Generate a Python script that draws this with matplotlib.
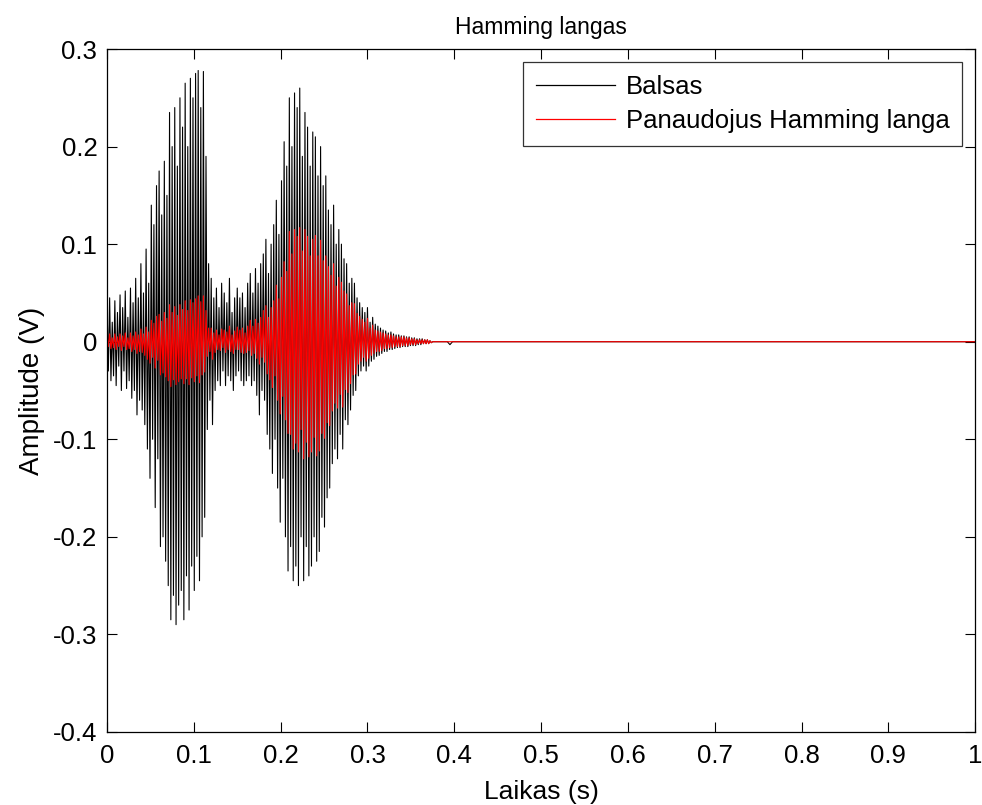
import numpy as np
import matplotlib
matplotlib.use("Agg")
import matplotlib.pyplot as plt

plt.rcParams["font.family"] = ["Liberation Sans", "DejaVu Sans"]
plt.rcParams["axes.unicode_minus"] = False

# Half-cycle spacing of the voiced segment (s)
half_period = 0.0015

# Alternating peak values of the recorded signal, one per half-cycle
balsas_peaks = [
    0.040, -0.030, 0.045, -0.040, 0.020, -0.035, 0.042, -0.045, 0.030, -0.025,
    0.048, -0.050, 0.035, -0.030, 0.052, -0.048, 0.025, -0.040, 0.055, -0.058,
    0.040, -0.050, 0.065, -0.075, 0.045, -0.060, 0.080, -0.070, 0.050, -0.085,
    0.095, -0.110, 0.060, -0.140, 0.140, -0.100, 0.120, -0.170, 0.160, -0.120,
    0.175, -0.210, 0.130, -0.200, 0.185, -0.225, 0.150, -0.250, 0.235, -0.285,
    0.200, -0.260, 0.240, -0.290, 0.180, -0.270, 0.250, -0.255, 0.220, -0.285,
    0.265, -0.240, 0.200, -0.275, 0.270, -0.230, 0.250, -0.255, 0.275, -0.220,
    0.278, -0.245, 0.240, -0.200, 0.277, -0.180, 0.190, -0.090, 0.080, -0.060,
    0.065, -0.085, 0.045, -0.050, 0.055, -0.040, 0.035, -0.045, 0.060, -0.030,
    0.050, -0.045, 0.040, -0.035, 0.065, -0.040, 0.030, -0.050, 0.045, -0.035,
    0.055, -0.030, 0.045, -0.040, 0.050, -0.045, 0.035, -0.040, 0.060, -0.035,
    0.070, -0.045, 0.050, -0.040, 0.075, -0.055, 0.060, -0.075, 0.080, -0.050,
    0.090, -0.060, 0.105, -0.095, 0.070, -0.110, 0.100, -0.135, 0.120, -0.100,
    0.145, -0.150, 0.110, -0.185, 0.165, -0.140, 0.205, -0.200, 0.180, -0.235,
    0.250, -0.210, 0.200, -0.245, 0.255, -0.230, 0.240, -0.250, 0.260, -0.200,
    0.190, -0.245, 0.235, -0.210, 0.220, -0.240, 0.180, -0.230, 0.215, -0.200,
    0.210, -0.225, 0.170, -0.215, 0.200, -0.180, 0.160, -0.190, 0.170, -0.160,
    0.135, -0.150, 0.120, -0.125, 0.140, -0.110, 0.100, -0.120, 0.115, -0.095,
    0.100, -0.110, 0.085, -0.080, 0.080, -0.085, 0.060, -0.070, 0.065, -0.055,
    0.060, -0.050, 0.045, -0.035, 0.040, -0.030, 0.035, -0.025, 0.030, -0.030,
    0.035, -0.025, 0.020, -0.020, 0.025, -0.018, 0.018, -0.015, 0.016, -0.014,
    0.014, -0.012, 0.012, -0.010, 0.011, -0.010, 0.009, -0.008, 0.010, -0.008,
    0.008, -0.007, 0.007, -0.006, 0.007, -0.006, 0.006, -0.005, 0.006, -0.005,
    0.005, -0.005, 0.005, -0.004, 0.004, -0.004, 0.004, -0.004, 0.003, -0.003,
    0.003, -0.003, 0.003, -0.002, 0.002, -0.002, 0.002, -0.002, 0.001, -0.001,
]

# Same half-cycles after the Hamming window is applied
lango_peaks = [
    0.007, -0.005, 0.008, -0.007, 0.004, -0.006, 0.008, -0.008, 0.005, -0.005,
    0.008, -0.009, 0.006, -0.005, 0.009, -0.008, 0.004, -0.007, 0.009, -0.010,
    0.006, -0.008, 0.010, -0.012, 0.007, -0.010, 0.013, -0.011, 0.008, -0.014,
    0.015, -0.018, 0.010, -0.022, 0.022, -0.016, 0.019, -0.027, 0.026, -0.019,
    0.028, -0.034, 0.021, -0.032, 0.030, -0.036, 0.024, -0.040, 0.038, -0.046,
    0.030, -0.039, 0.036, -0.044, 0.027, -0.041, 0.038, -0.038, 0.033, -0.043,
    0.042, -0.038, 0.032, -0.044, 0.043, -0.037, 0.040, -0.041, 0.044, -0.035,
    0.047, -0.042, 0.041, -0.034, 0.047, -0.031, 0.032, -0.015, 0.014, -0.010,
    0.014, -0.018, 0.009, -0.011, 0.012, -0.008, 0.007, -0.009, 0.013, -0.006,
    0.012, -0.011, 0.010, -0.008, 0.016, -0.010, 0.007, -0.012, 0.011, -0.008,
    0.015, -0.008, 0.012, -0.011, 0.014, -0.012, 0.009, -0.011, 0.016, -0.009,
    0.022, -0.014, 0.016, -0.012, 0.023, -0.017, 0.019, -0.023, 0.025, -0.016,
    0.032, -0.021, 0.037, -0.033, 0.025, -0.039, 0.035, -0.047, 0.042, -0.035,
    0.058, -0.060, 0.044, -0.074, 0.066, -0.056, 0.082, -0.080, 0.072, -0.094,
    0.113, -0.095, 0.090, -0.110, 0.115, -0.104, 0.108, -0.113, 0.117, -0.090,
    0.093, -0.120, 0.115, -0.103, 0.108, -0.118, 0.088, -0.113, 0.105, -0.098,
    0.109, -0.117, 0.088, -0.112, 0.104, -0.094, 0.083, -0.099, 0.088, -0.083,
    0.077, -0.086, 0.068, -0.071, 0.080, -0.063, 0.057, -0.068, 0.066, -0.054,
    0.061, -0.067, 0.052, -0.049, 0.049, -0.052, 0.037, -0.043, 0.040, -0.034,
    0.039, -0.033, 0.029, -0.023, 0.026, -0.020, 0.023, -0.016, 0.020, -0.020,
    0.024, -0.017, 0.014, -0.014, 0.017, -0.012, 0.012, -0.010, 0.011, -0.010,
    0.010, -0.009, 0.009, -0.007, 0.008, -0.007, 0.007, -0.006, 0.007, -0.006,
    0.006, -0.005, 0.005, -0.005, 0.005, -0.005, 0.005, -0.004, 0.005, -0.004,
    0.004, -0.004, 0.004, -0.003, 0.003, -0.003, 0.003, -0.003, 0.002, -0.002,
    0.002, -0.002, 0.002, -0.002, 0.002, -0.002, 0.002, -0.002, 0.001, -0.001,
]

# Silent remainder of the recording
tail_times = [0.375, 0.392, 0.395, 0.398, 1.0]
tail_balsas = [0.0, 0.0, -0.003, 0.0, 0.0]
tail_lango = [0.0, 0.0, 0.0, 0.0, 0.0]

x_ticks = [0, 0.1, 0.2, 0.3, 0.4, 0.5, 0.6, 0.7, 0.8, 0.9, 1]
x_tick_labels = ["0", "0.1", "0.2", "0.3", "0.4", "0.5", "0.6", "0.7", "0.8", "0.9", "1"]
y_ticks = [-0.4, -0.3, -0.2, -0.1, 0, 0.1, 0.2, 0.3]
y_tick_labels = ["-0.4", "-0.3", "-0.2", "-0.1", "0", "0.1", "0.2", "0.3"]

peak_times = np.arange(len(balsas_peaks)) * half_period
t = np.concatenate([peak_times, tail_times])
balsas = np.concatenate([balsas_peaks, tail_balsas])
lango = np.concatenate([lango_peaks, tail_lango])

fig = plt.figure(figsize=(9.82, 8.05), dpi=100)
ax = fig.add_axes([0.109, 0.0907, 0.884, 0.8484])

ax.plot(t, balsas, color="black", lw=0.8, label="Balsas")
ax.plot(t, lango, color="red", lw=0.8, label="Panaudojus Hamming langa")

ax.set_xlim(0, 1)
ax.set_ylim(-0.4, 0.3)
ax.set_xticks(x_ticks)
ax.set_xticklabels(x_tick_labels)
ax.set_yticks(y_ticks)
ax.set_yticklabels(y_tick_labels)

ax.tick_params(direction="in", length=7, width=0.8, top=True, right=True,
               labelsize=18.5, pad=7, colors="black")
ax.tick_params(axis="x", pad=9)
for sp in ax.spines.values():
    sp.set_linewidth(0.9)

ax.set_xlabel("Laikas (s)", fontsize=19, labelpad=8)
ax.set_ylabel("Amplitude (V)", fontsize=20, labelpad=6)
ax.set_title("Hamming langas", fontsize=16.5, pad=11)

leg = ax.legend(loc="upper right", fontsize=18.5, frameon=True, fancybox=False,
                handlelength=3.1, borderaxespad=0.5, borderpad=0.5,
                labelspacing=0.4, handletextpad=0.4)
leg.get_frame().set_edgecolor("black")
leg.get_frame().set_linewidth(0.9)
for line in leg.get_lines():
    line.set_linewidth(0.9)

fig.savefig("out.png", dpi=100, facecolor="white")
